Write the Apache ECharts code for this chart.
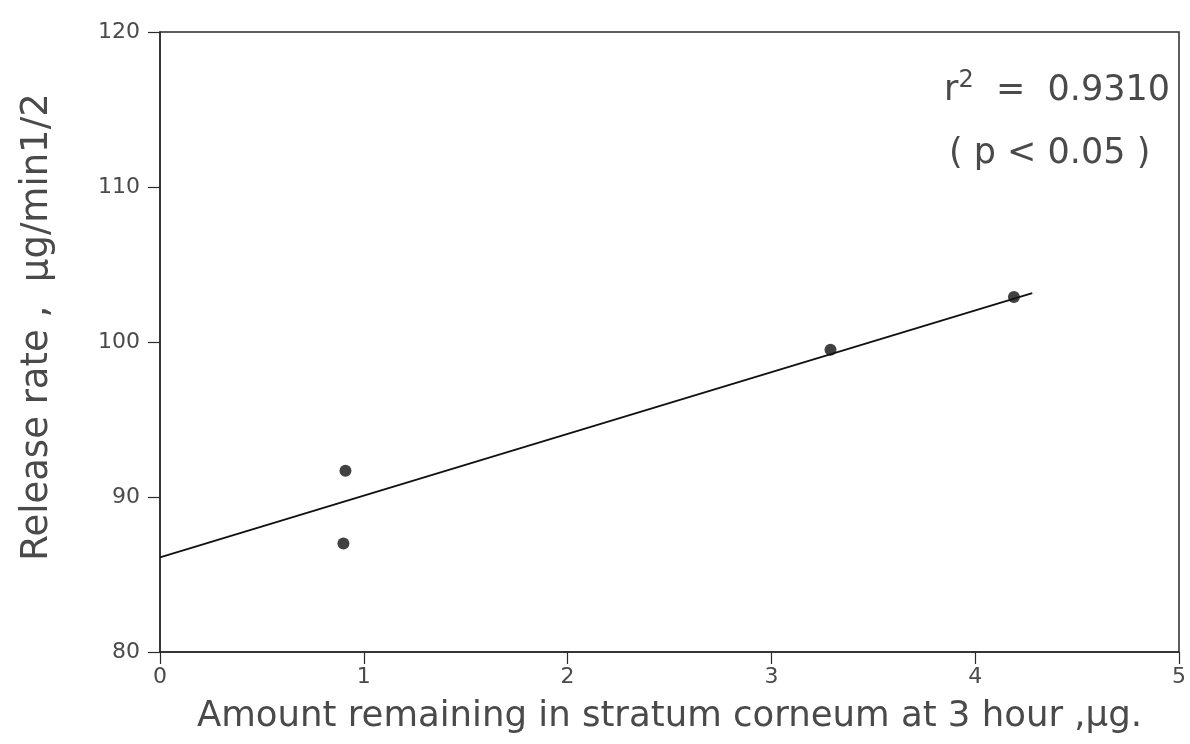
<!DOCTYPE html>
<html><head><meta charset="utf-8">
<script src="https://cdn.jsdelivr.net/npm/echarts@6/dist/echarts.min.js"></script>
<style>html,body{margin:0;padding:0;background:#fff}#c{width:1190px;height:744px}</style>
</head><body><div id="c"></div>
<script>
const xAmount = [0.91, 0.90, 3.29, 4.19];
const yRate = [91.7, 87.0, 99.5, 102.9];
const fitX = [0, 4.28];
const fitY = [86.1, 103.15];
const xTitle = 'Amount remaining in stratum corneum at 3 hour ,\u03bcg.';
const yTitle = 'Release rate ,  \u03bcg/min1/2';
const statLine1 = '0.9310';
const statLine2 = '( p < 0.05 )';

const font = 'DejaVu Sans';
const txt = '#4a4a4a';
const axisCol = '#2a2a2a';
const chart = echarts.init(document.getElementById('c'));
chart.setOption({
  animation: false,
  backgroundColor: '#fff',
  grid: { left: 160, right: 11, top: 32, bottom: 92, show: true, borderColor: axisCol, borderWidth: 1.5 },
  xAxis: {
    type: 'value', min: 0, max: 5, interval: 1,
    name: xTitle, nameLocation: 'middle', nameGap: 47,
    nameTextStyle: { fontFamily: font, fontSize: 35.5, color: txt },
    axisLine: { show: true, lineStyle: { color: axisCol, width: 1.5 } },
    axisTick: { show: true, inside: false, length: 12, lineStyle: { color: axisCol, width: 1.2 } },
    axisLabel: { fontFamily: font, fontSize: 22, color: txt, margin: 14 },
    splitLine: { show: false }
  },
  yAxis: {
    type: 'value', min: 80, max: 120, interval: 10,
    name: yTitle, nameLocation: 'middle', nameGap: 104,
    nameTextStyle: { fontFamily: font, fontSize: 37, color: txt, padding: [0, 0, 0, 30] },
    axisLine: { show: true, lineStyle: { color: axisCol, width: 1.5 } },
    axisTick: { show: true, inside: false, length: 12, lineStyle: { color: axisCol, width: 1.2 } },
    axisLabel: { fontFamily: font, fontSize: 22, color: txt, margin: 20 },
    splitLine: { show: false }
  },
  series: [
    {
      type: 'line', data: fitX.map((x, i) => [x, fitY[i]]),
      showSymbol: false, symbol: 'none',
      lineStyle: { color: '#111', width: 1.8 }, z: 2
    },
    {
      type: 'scatter', data: xAmount.map((x, i) => [x, yRate[i]]),
      symbol: 'circle', symbolSize: 12,
      itemStyle: { color: '#111' }, z: 3
    }
  ],
  graphic: [
    {
      type: 'text', left: 944, top: 69,
      style: {
        rich: {
          r: { fontFamily: font, fontSize: 35, fill: txt },
          sup: { fontFamily: font, fontSize: 24, fill: txt, verticalAlign: 'top', padding: [0, 0, 20, 0] },
          v: { fontFamily: font, fontSize: 35, fill: txt }
        },
        text: '{r|r}{sup|2}{v|  =  ' + statLine1 + '}'
      }
    },
    {
      type: 'text', left: 949, top: 136,
      style: { text: statLine2, fontFamily: font, fontSize: 35, fill: txt }
    }
  ]
});
</script></body></html>
